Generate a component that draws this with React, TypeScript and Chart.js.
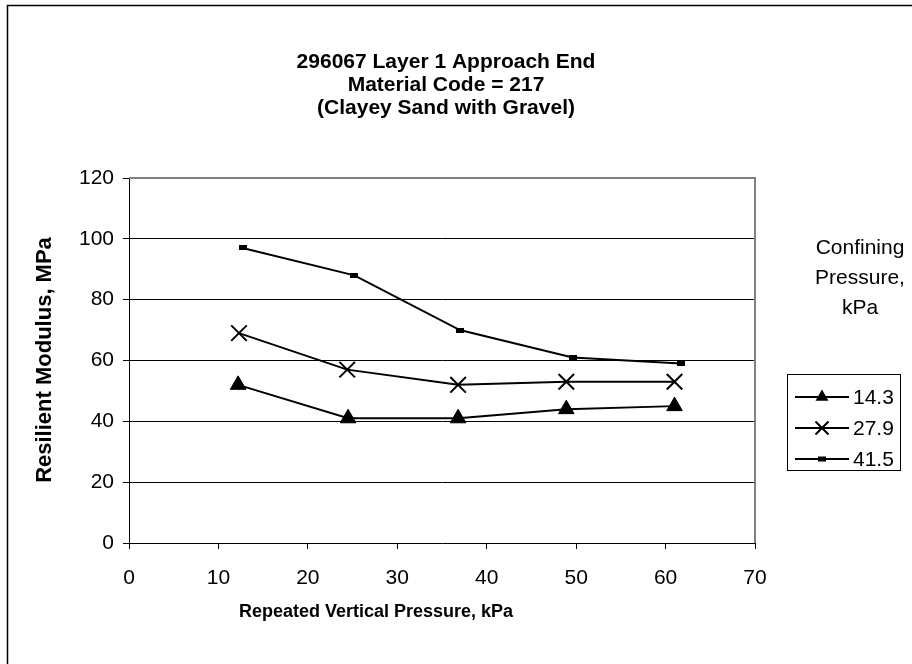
import React, { useEffect, useRef } from "react";
import { Chart, registerables } from "chart.js";

Chart.register(...registerables);

const titleLines = ["296067 Layer 1 Approach End", "Material Code = 217", "(Clayey Sand with Gravel)"];
const xTitle = "Repeated Vertical Pressure, kPa";
const yTitle = "Resilient Modulus, MPa";
const legendTitle = ["Confining", "Pressure,", "kPa"];
const seriesLabels = ["14.3", "27.9", "41.5"];

const x143 = [12.2, 24.5, 36.8, 48.9, 61.0];
const y143 = [52, 41, 41, 44, 45];
const x279 = [12.3, 24.4, 36.8, 48.9, 61.0];
const y279 = [69, 57, 52, 53, 53];
const x415 = [12.7, 25.2, 37.0, 49.6, 61.7];
const y415 = [97, 88, 70, 61, 59];

const FONT = '"Liberation Sans", Arial, Helvetica, sans-serif';

function pts(xs: number[], ys: number[]) {
  return xs.map((x, i) => ({ x, y: ys[i] }));
}

function makeRectPoint(): HTMLCanvasElement {
  const c = document.createElement("canvas");
  c.width = 8;
  c.height = 5;
  const g = c.getContext("2d")!;
  g.fillStyle = "#000";
  g.fillRect(0, 0, 8, 5);
  return c;
}

function drawMarker(ctx: CanvasRenderingContext2D, kind: string, x: number, y: number) {
  ctx.save();
  ctx.fillStyle = "#000";
  ctx.strokeStyle = "#000";
  if (kind === "tri") {
    const r = 7.5;
    ctx.beginPath();
    ctx.moveTo(x, y - r);
    ctx.lineTo(x + r * Math.sin((2 * Math.PI) / 3), y - r * Math.cos((2 * Math.PI) / 3));
    ctx.lineTo(x + r * Math.sin((4 * Math.PI) / 3), y - r * Math.cos((4 * Math.PI) / 3));
    ctx.closePath();
    ctx.fill();
  } else if (kind === "x") {
    const d = 6.5;
    ctx.lineWidth = 2;
    ctx.beginPath();
    ctx.moveTo(x - d, y - d);
    ctx.lineTo(x + d, y + d);
    ctx.moveTo(x + d, y - d);
    ctx.lineTo(x - d, y + d);
    ctx.stroke();
  } else {
    ctx.fillRect(x - 4, y - 2.5, 8, 5);
  }
  ctx.restore();
}

const decorPlugin = {
  id: "decor",
  beforeDatasetsDraw(chart: any) {
    const { ctx, chartArea } = chart;
    ctx.save();
    ctx.strokeStyle = "#808080";
    ctx.lineWidth = 2;
    ctx.beginPath();
    ctx.moveTo(chartArea.left, chartArea.top);
    ctx.lineTo(chartArea.right, chartArea.top);
    ctx.lineTo(chartArea.right, chartArea.bottom);
    ctx.stroke();
    ctx.restore();
  },
  afterDraw(chart: any) {
    const { ctx } = chart;
    ctx.save();
    // outer border
    ctx.strokeStyle = "#000";
    ctx.lineWidth = 1.5;
    ctx.beginPath();
    ctx.moveTo(7.5, 664);
    ctx.lineTo(7.5, 5.5);
    ctx.lineTo(912, 5.5);
    ctx.stroke();

    ctx.fillStyle = "#000";
    ctx.textAlign = "center";
    ctx.textBaseline = "middle";
    // main title
    ctx.font = `bold 21px ${FONT}`;
    titleLines.forEach((t, i) => ctx.fillText(t, 446, 62 + i * 23));
    // x title
    ctx.font = `bold 18px ${FONT}`;
    ctx.fillText(xTitle, 376, 612);
    // y title
    ctx.font = `bold 22px ${FONT}`;
    ctx.save();
    ctx.translate(45, 360);
    ctx.rotate(-Math.PI / 2);
    ctx.fillText(yTitle, 0, 0);
    ctx.restore();

    // legend title
    ctx.font = `21px ${FONT}`;
    legendTitle.forEach((t, i) => ctx.fillText(t, 860, 248 + i * 30));

    // legend box
    ctx.strokeStyle = "#000";
    ctx.lineWidth = 1;
    ctx.strokeRect(787.5, 374.5, 113, 96);
    const kinds = ["tri", "x", "rect"];
    ctx.textAlign = "left";
    seriesLabels.forEach((lab, i) => {
      const y = 397 + i * 31;
      ctx.lineWidth = 2;
      ctx.beginPath();
      ctx.moveTo(795, y);
      ctx.lineTo(849, y);
      ctx.stroke();
      drawMarker(ctx, kinds[i], 822, y);
      ctx.fillText(lab, 853, y + 1);
    });
    ctx.restore();
  },
};

export default function App() {
  const ref = useRef<HTMLCanvasElement>(null);
  useEffect(() => {
    const canvas = ref.current!;
    const rectPt = makeRectPoint();
    const chart = new Chart(canvas, {
      type: "line",
      data: {
        datasets: [
          {
            label: seriesLabels[0],
            data: pts(x143, y143),
            borderColor: "#000",
            backgroundColor: "#000",
            borderWidth: 2,
            pointStyle: "triangle",
            pointRadius: 9,
            pointBorderWidth: 1,
          },
          {
            label: seriesLabels[1],
            data: pts(x279, y279),
            borderColor: "#000",
            backgroundColor: "#000",
            borderWidth: 2,
            pointStyle: "crossRot",
            pointRadius: 11,
            pointBorderWidth: 2,
          },
          {
            label: seriesLabels[2],
            data: pts(x415, y415),
            borderColor: "#000",
            backgroundColor: "#000",
            borderWidth: 2,
            pointStyle: rectPt as any,
            pointRadius: 4,
          },
        ],
      },
      options: {
        responsive: false,
        animation: false,
        layout: { padding: { left: 0, top: 178, right: 157, bottom: 0 } },
        plugins: { legend: { display: false }, title: { display: false }, tooltip: { enabled: false } },
        scales: {
          x: {
            type: "linear",
            min: 0,
            max: 70,
            afterFit: (s: any) => {
              s.height = 121;
            },
            ticks: { stepSize: 10, color: "#000", font: { size: 21, family: FONT }, padding: 17, maxRotation: 0 },
            grid: { drawOnChartArea: false, tickLength: 6, tickColor: "#000", tickWidth: 1 },
            border: { display: true, color: "#000", width: 1 },
          },
          y: {
            type: "linear",
            min: 0,
            max: 120,
            afterFit: (s: any) => {
              s.width = 129;
            },
            ticks: { stepSize: 20, color: "#000", font: { size: 21, family: FONT }, padding: 9 },
            grid: {
              color: (c: any) => (c.tick && (c.tick.value === 0 || c.tick.value === 120) ? "rgba(0,0,0,0)" : "#000"),
              lineWidth: 1,
              tickLength: 6,
              tickColor: "#000",
              tickWidth: 1,
            },
            border: { display: true, color: "#000", width: 1 },
          },
        },
      },
      plugins: [decorPlugin],
    });
    return () => chart.destroy();
  }, []);
  return (
    <div style={{ position: "absolute", left: 0, top: 0, width: 912, height: 664, background: "#fff" }}>
      <canvas ref={ref} width={912} height={664} style={{ display: "block" }} />
    </div>
  );
}
